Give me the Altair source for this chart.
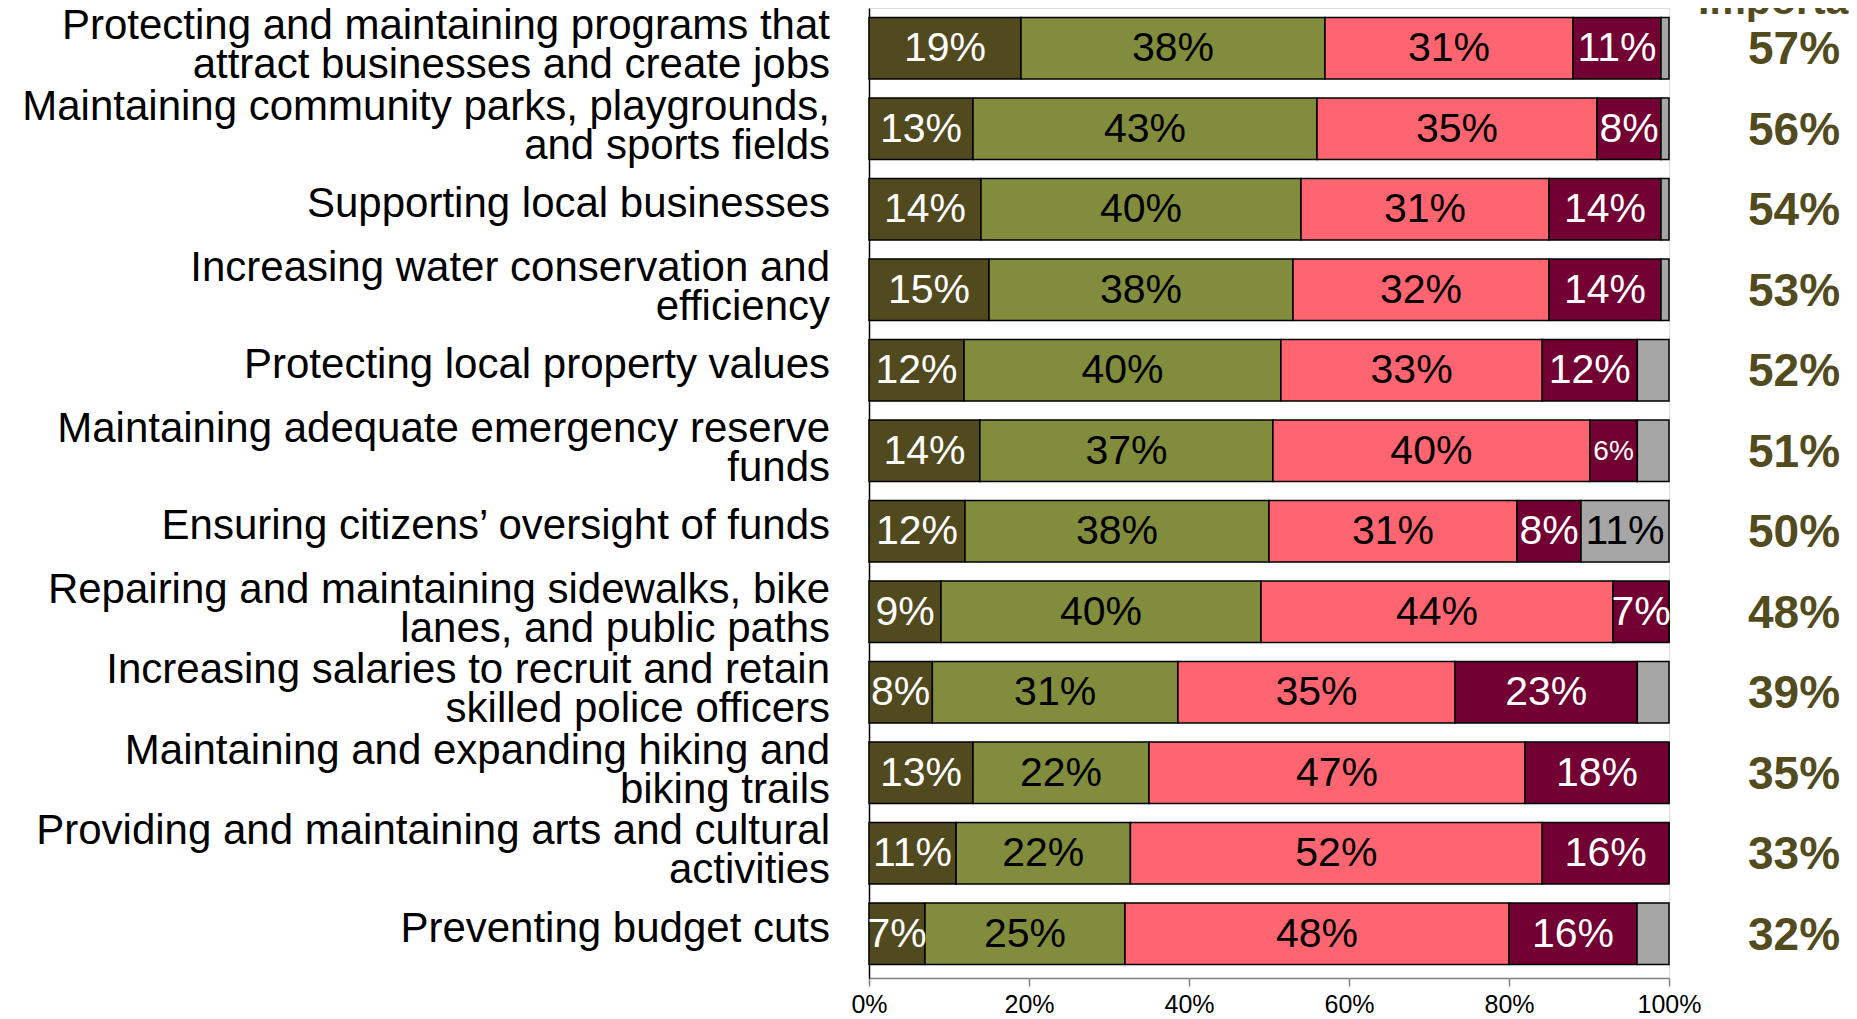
import altair as alt
import pandas as pd

items = [
    "Protecting and maintaining programs that\nattract businesses and create jobs",
    "Maintaining community parks, playgrounds,\nand sports fields",
    "Supporting local businesses",
    "Increasing water conservation and\nefficiency",
    "Protecting local property values",
    "Maintaining adequate emergency reserve\nfunds",
    "Ensuring citizens\u2019 oversight of funds",
    "Repairing and maintaining sidewalks, bike\nlanes, and public paths",
    "Increasing salaries to recruit and retain\nskilled police officers",
    "Maintaining and expanding hiking and\nbiking trails",
    "Providing and maintaining arts and cultural\nactivities",
    "Preventing budget cuts",
]
categories = ["Extremely important", "Very important", "Somewhat important", "Not important", "Don't know"]
extremely = [19, 13, 14, 15, 12, 14, 12, 9, 8, 13, 11, 7]
very = [38, 43, 40, 38, 40, 37, 38, 40, 31, 22, 22, 25]
somewhat = [31, 35, 31, 32, 33, 40, 31, 44, 35, 47, 52, 48]
not_important = [11, 8, 14, 14, 12, 6, 8, 7, 23, 18, 16, 16]
dont_know = [1, 1, 1, 1, 4, 4, 11, 0, 4, 0, 0, 4]
total_important = [57, 56, 54, 53, 52, 51, 50, 48, 39, 35, 33, 32]
header_text = "Important"

colors = ["#514A1F", "#818C3C", "#FF6471", "#720032", "#A6A6A6"]
text_colors = ["white", "black", "black", "white", "black"]

series = [extremely, very, somewhat, not_important, dont_know]
rows = []
for ci, (cat, vals) in enumerate(zip(categories, series)):
    for it, v in zip(items, vals):
        rows.append({"item": it, "cat": cat, "order": ci, "value": v,
                     "label": f"{v}%", "tcolor": text_colors[ci]})
df = pd.DataFrame(rows)
tot = pd.DataFrame({"item": items,
                    "label": [f"{t}%" for t in total_important],
                    "two": ["\n" in it for it in items]})

FONT = "Liberation Sans"

y_enc = alt.Y("item:N", sort=items,
              scale=alt.Scale(paddingInner=0.235, paddingOuter=0.142, align=0.415),
              axis=alt.Axis(labels=False, ticks=False, title=None, domain=True,
                            domainColor="black", domainWidth=1.5, grid=False))

base = alt.Chart(df).transform_stack(
    stack="value", groupby=["item"], as_=["v0", "v1"],
    sort=[alt.SortField("order")], offset="normalize"
).transform_calculate(mid="(datum.v0 + datum.v1) / 2")

bars = base.mark_bar(stroke="black", strokeWidth=1.5).encode(
    y=y_enc,
    x=alt.X("v0:Q", scale=alt.Scale(domain=[0, 1], nice=False),
            axis=alt.Axis(values=[0, 0.2, 0.4, 0.6, 0.8, 1.0], format=".0%", title=None,
                          labelFontSize=25, labelColor="black", labelFont=FONT,
                          tickColor="#808080", tickSize=8, tickWidth=1.5,
                          domainColor="#808080", domainWidth=1.5, grid=False,
                          labelPadding=6, labelFlush=False)),
    x2="v1:Q",
    color=alt.Color("cat:N", scale=alt.Scale(domain=categories, range=colors), legend=None),
)

seg_text = base.transform_filter("datum.value >= 5").mark_text(
    font=FONT, baseline="middle", align="center", dy=1
).encode(
    y=alt.Y("item:N", sort=items),
    x=alt.X("mid:Q"),
    text="label:N",
    color=alt.Color("tcolor:N", scale=None),
    size=alt.condition("datum.value < 7", alt.value(28), alt.value(41)),
)

label_style = dict(font=FONT, fontSize=42, align="right", baseline="middle",
                   lineBreak="\n", lineHeight=39, color="black")

ylabels_one = alt.Chart(tot).transform_filter("!datum.two").mark_text(
    dy=-5, **label_style
).encode(y=alt.Y("item:N", sort=items), x=alt.value(-39), text="item:N")

ylabels_two = alt.Chart(tot).transform_filter("datum.two").mark_text(
    dy=-22, **label_style
).encode(y=alt.Y("item:N", sort=items), x=alt.value(-39), text="item:N")

totals = alt.Chart(tot).mark_text(
    font=FONT, fontSize=46, fontWeight="bold", align="center", baseline="middle",
    color="#524B1E", dy=2
).encode(
    y=alt.Y("item:N", sort=items),
    x=alt.value(925),
    text="label:N",
)

header = alt.Chart(pd.DataFrame({"t": [header_text]})).mark_text(
    font=FONT, fontSize=41, fontWeight="bold", align="left", baseline="alphabetic",
    color="#524B1E"
).encode(x=alt.value(829), y=alt.value(6), text="t:N")

chart = alt.layer(bars, seg_text, ylabels_one, ylabels_two, totals, header).properties(
    width=800, height=970,
    autosize=alt.AutoSizeParams(type="none"),
    padding={"left": 861, "top": 0, "right": 180, "bottom": 38},
).configure_view(stroke=None).configure(font=FONT)

chart.save("out.html", embed_options={"renderer": "svg", "actions": False})
